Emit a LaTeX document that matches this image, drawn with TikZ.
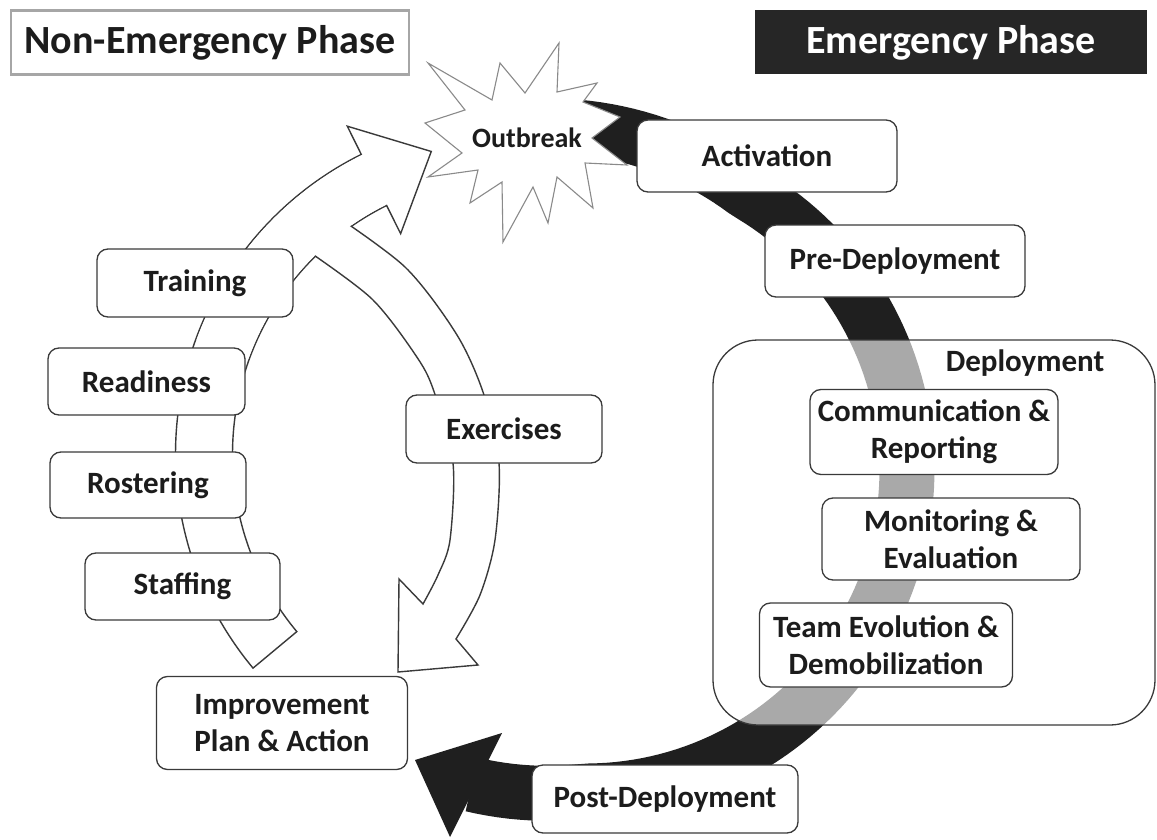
\documentclass[tikz,border=0pt]{standalone}
\usepackage{fontspec}
\setmainfont{Carlito}
\usetikzlibrary{calc}
\definecolor{boxline}{HTML}{3A3A3A}
\definecolor{arcblack}{HTML}{1F1F1F}
\definecolor{starline}{HTML}{8A8A8A}
\definecolor{headfill}{HTML}{262626}
\definecolor{ink}{HTML}{1C1C1C}

\begin{document}
\begin{tikzpicture}[x=1pt, y=-1pt,
  stagebox/.style={draw=boxline, line width=1.3pt, fill=white, rounded corners=11pt,
    text=ink, font=\fontsize{31}{37}\selectfont\bfseries, align=center, inner sep=0pt},
  outline/.style={draw=boxline, line width=1.4pt, line join=miter},
  headbox/.style={minimum height=64pt, inner sep=0pt,
    font=\fontsize{40}{48}\selectfont\bfseries}
]
\useasboundingbox (0,0) rectangle (1157,840);

% ---------- emergency cycle: black spiral band ----------
\draw[arcblack, line width=55pt] plot[domain=-95:110, samples=120, variable=\t]
  ({586+(321+0.7*max(0,-60-(\t))+0.68*max(0,(\t)-90))*cos(\t)},
   {470+(321+0.7*max(0,-60-(\t))+0.68*max(0,(\t)-90))*sin(\t)});
\coordinate (kA) at (502,733);
\coordinate (kTip) at (415,760);
\coordinate (kB) at (450,837);
\fill[arcblack] (kA) -- (kTip) -- (kB) -- cycle;

% ---------- non-emergency cycle: large open arrow ----------
\coordinate (bc) at (510,454);
\coordinate (bTip) at ($(bc)+(243.6:306)+(333.6:64)$);
\filldraw[fill=white, outline]
  ($(bc)+(140.2:334.5)$) arc[start angle=140.2, end angle=243.6, radius=334.5]
  -- ($(bc)+(243.6:366)$) -- (bTip) -- ($(bc)+(243.6:246)$)
  -- ($(bc)+(243.6:277.5)$) arc[start angle=243.6, end angle=140.2, radius=277.5]
  -- cycle;

% ---------- exercises arrow branching off the large arrow ----------
\coordinate (eA) at (478,665);
\coordinate (eTip) at (398,672);
\coordinate (eB) at (399,579);
\fill[white]
  plot[smooth] coordinates {(326,209) (405,267) (457,335) (484,395) (499,463) (495,540) (480,595) (456,639)}
  -- (eA) -- (eTip) -- (eB)
  -- plot[smooth] coordinates {(423,604) (438,575) (450,540) (453,463) (434.5,393) (417.5,358) (372,299) (305,249)}
  -- cycle;
\draw[outline]
  plot[smooth] coordinates {(326,209) (405,267) (457,335) (484,395) (499,463) (495,540) (480,595) (456,639)}
  -- (eA) -- (eTip) -- (eB)
  -- plot[smooth] coordinates {(423,604) (438,575) (450,540) (453,463) (434.5,393) (417.5,358) (372,299) (305,249)};
% merge the two arrows: clear the inside of the large arrow body
\fill[white]
  ($(bc)+(200:333.6)$) arc[start angle=200, end angle=243.6, radius=333.6]
  -- ($(bc)+(243.6:278.4)$) arc[start angle=243.6, end angle=200, radius=278.4]
  -- cycle;

% ---------- outbreak burst ----------
\filldraw[fill=white, draw=starline, line width=1.1pt]
  (559,43) -- (557,92) -- (597,83) -- (583,102) -- (620,117) -- (592,138)
  -- (627,165) -- (585,163) -- (593,208) -- (557,177) -- (548,223) -- (533,187)
  -- (503,242) -- (502,182) -- (470,203) -- (478,170) -- (428,177) -- (462,153)
  -- (425,123) -- (465,110) -- (428,63) -- (492,100) -- (500,63) -- (525,93)
  -- cycle;
\node[text=ink, font=\fontsize{28}{32}\selectfont\bfseries] (outbreak) at (527,138) {Outbreak};

% ---------- deployment group ----------
\node[draw=boxline, line width=1.3pt, fill=white, fill opacity=0.62,
      rounded corners=45pt, minimum width=442pt, minimum height=385pt, inner sep=0pt]
      (deploy) at (934,532.5) {};
\node[text=ink, font=\fontsize{31}{37}\selectfont\bfseries] (deploylabel) at (1025,363) {Deployment};

% ---------- stage boxes ----------
\node[stagebox, minimum width=260pt, minimum height=72pt] (activation) at (767,156) {Activation};
\node[stagebox, minimum width=260pt, minimum height=72pt] (predeploy) at (895,261) {Pre-Deployment};
\node[stagebox, minimum width=248pt, minimum height=85pt] (comm) at (934,432) {Communication \&\\Reporting};
\node[stagebox, minimum width=258pt, minimum height=82pt] (monit) at (951,539) {Monitoring \&\\Evaluation};
\node[stagebox, minimum width=253pt, minimum height=84pt] (team) at (886,645) {Team Evolution \&\\Demobilization};
\node[stagebox, minimum width=266pt, minimum height=68pt] (postdeploy) at (665,799) {Post-Deployment};
\node[stagebox, minimum width=251pt, minimum height=93pt] (improve) at (282,723) {Improvement\\Plan \& Action};
\node[stagebox, minimum width=196pt, minimum height=68pt] (exercises) at (504,429) {Exercises};
\node[stagebox, minimum width=196pt, minimum height=68pt] (training) at (195,283) {Training};
\node[stagebox, minimum width=197pt, minimum height=67pt] (readiness) at (146.5,381.5) {Readiness};
\node[stagebox, minimum width=196pt, minimum height=66pt] (rostering) at (148,485) {Rostering};
\node[stagebox, minimum width=195pt, minimum height=67pt] (staffing) at (182.5,586.5) {Staffing};

% ---------- phase headers ----------
\node[headbox, draw=gray!70, line width=2.5pt, fill=white, text=ink, minimum width=398pt]
  (nonemergency) at (210,42.5) {Non-Emergency Phase};
\node[headbox, fill=headfill, text=white, minimum width=392pt]
  (emergency) at (951,42.5) {Emergency Phase};
\end{tikzpicture}
\end{document}
